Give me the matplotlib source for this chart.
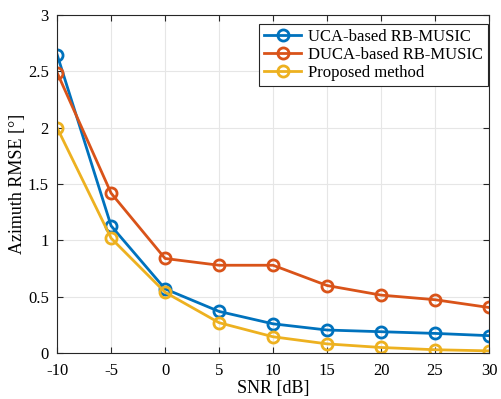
import numpy as np
import matplotlib.pyplot as plt

plt.rcParams['font.family'] = ['Liberation Serif', 'DejaVu Serif']
plt.rcParams['axes.unicode_minus'] = False

snr = [-10, -5, 0, 5, 10, 15, 20, 25, 30]
uca = [2.65, 1.13, 0.57, 0.37, 0.26, 0.205, 0.19, 0.175, 0.155]
duca = [2.49, 1.42, 0.84, 0.78, 0.78, 0.60, 0.515, 0.474, 0.405]
proposed = [2.0, 1.02, 0.54, 0.27, 0.145, 0.082, 0.05, 0.03, 0.02]

labels = ["UCA-based RB-MUSIC", "DUCA-based RB-MUSIC", "Proposed method"]
colors = ["#0072BD", "#D95319", "#EDB120"]

fig = plt.figure(figsize=(5.01, 3.99), dpi=100)
ax = fig.add_axes([0.114, 0.115, 0.862, 0.847])

for ys, lab, c in zip([uca, duca, proposed], labels, colors):
    ax.plot(snr, ys, "-o", color=c, lw=2, ms=8, mfc="none", mew=2, label=lab)

ax.set_xlim(-10, 30)
ax.set_ylim(0, 3)
ax.set_xticks(np.arange(-10, 31, 5))
ax.set_yticks(np.arange(0, 3.01, 0.5))
ax.set_yticklabels(["0", "0.5", "1", "1.5", "2", "2.5", "3"])
ax.grid(True, color="#e6e6e6", lw=0.8)
ax.set_axisbelow(True)
ax.tick_params(direction="in", top=True, right=True, labelsize=12, color="#262626", length=4)
ax.tick_params(axis="x", pad=7)
ax.tick_params(axis="y", pad=6)
for s in ax.spines.values():
    s.set_color("#262626")
    s.set_linewidth(0.8)

ax.set_xlabel("SNR [dB]", fontsize=13, labelpad=1)
ax.set_ylabel("Azimuth RMSE [°]", fontsize=13, labelpad=1)

leg = ax.legend(loc="upper right", bbox_to_anchor=(0.997, 0.973), fontsize=12,
                fancybox=False, framealpha=1, edgecolor="#262626", handlelength=2.2,
                borderpad=0.3, labelspacing=0.1, handletextpad=0.4, borderaxespad=0)
leg.get_frame().set_linewidth(0.8)

fig.savefig("out.png", dpi=100)
